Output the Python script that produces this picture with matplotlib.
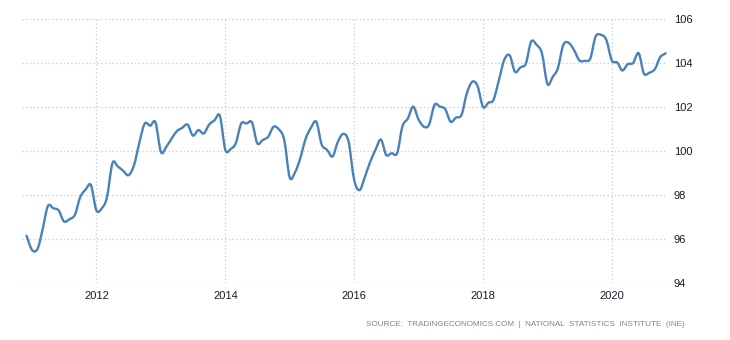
import numpy as np
import pandas as pd
import matplotlib.pyplot as plt
import matplotlib.dates as mdates
from matplotlib.path import Path
from matplotlib.patches import PathPatch

# monthly index, Dec 2010 - Nov 2020
start = "2010-12-01"
values = [
    96.15, 95.5, 95.55, 96.4, 97.5, 97.4, 97.3, 96.8, 96.9, 97.1, 97.9, 98.25,
    98.45, 97.3, 97.4, 97.9, 99.45, 99.3, 99.1, 98.9, 99.35, 100.4, 101.25, 101.15,
    101.3, 99.95, 100.2, 100.55, 100.9, 101.05, 101.2, 100.7, 100.95, 100.8, 101.2, 101.4,
    101.6, 100.05, 100.1, 100.35, 101.25, 101.25, 101.3, 100.35, 100.5, 100.65, 101.1, 100.98,
    100.5, 98.8, 99.05, 99.65, 100.55, 101.05, 101.33, 100.3, 100.05, 99.75, 100.42, 100.78,
    100.42, 98.7, 98.22, 98.8, 99.5, 100.05, 100.52, 99.82, 99.9, 99.9, 101.12, 101.48,
    102.02, 101.42, 101.1, 101.2, 102.1, 102.02, 101.9, 101.33, 101.52, 101.64, 102.62, 103.15,
    102.95, 102.0, 102.2, 102.32, 103.22, 104.14, 104.35, 103.6, 103.8, 103.98, 104.98, 104.82,
    104.44, 103.05, 103.38, 103.76, 104.82, 104.92, 104.59, 104.12, 104.1, 104.2, 105.2, 105.28,
    105.05, 104.12, 104.02, 103.66, 103.95, 104.0, 104.45, 103.52, 103.56, 103.72, 104.26, 104.44,
]
year_ticks = ["2012", "2014", "2016", "2018", "2020"]
y_ticks = [94, 96, 98, 100, 102, 104, 106]

dates = pd.date_range(start, periods=len(values), freq="MS")


def smooth_path(x, y):
    # Catmull-Rom curve through the points, as cubic bezier segments
    pts = np.column_stack([x, y])
    padded = np.vstack([pts[0], pts, pts[-1]])
    verts = [pts[0]]
    codes = [Path.MOVETO]
    for i in range(len(pts) - 1):
        p0, p1, p2, p3 = padded[i], padded[i + 1], padded[i + 2], padded[i + 3]
        verts += [p1 + (p2 - p0) / 6, p2 - (p3 - p1) / 6, p2]
        codes += [Path.CURVE4] * 3
    return Path(verts, codes)


fig = plt.figure(figsize=(7.3, 3.4), dpi=100)
ax = fig.add_axes([0.0301, 0.1676, 0.8836, 0.7765])

xnum = mdates.date2num(dates)
ax.add_patch(PathPatch(smooth_path(xnum, np.array(values)), fill=False,
                       edgecolor="#4a82b8", linewidth=1.7,
                       joinstyle="round", capstyle="round", zorder=3))

ax.set_ylim(94, 106)
ax.set_xlim(pd.Timestamp("2010-11-05"), pd.Timestamp("2020-11-09"))
ax.set_yticks(y_ticks)
ax.set_xticks([pd.Timestamp(y + "-01-01") for y in year_ticks])
ax.xaxis.set_major_formatter(mdates.DateFormatter("%Y"))

ax.yaxis.tick_right()
ax.tick_params(axis="both", length=0, labelsize=8, labelcolor="#1a1a2e")
ax.tick_params(axis="y", pad=5)
ax.tick_params(axis="x", pad=6)
for lbl in ax.get_xticklabels() + ax.get_yticklabels():
    lbl.set_family("Liberation Sans")

ax.grid(True, color="#c8c8c8", linestyle=(0, (1, 2)), linewidth=0.9)
ax.set_axisbelow(True)
for s in ax.spines.values():
    s.set_visible(False)

fig.text(0.938, 0.047,
         "SOURCE:  TRADINGECONOMICS.COM  |  NATIONAL  STATISTICS  INSTITUTE  (INE)",
         ha="right", va="center", fontsize=5.9, color="#7f829c",
         family="Liberation Sans")

fig.savefig("out.png", dpi=100)
